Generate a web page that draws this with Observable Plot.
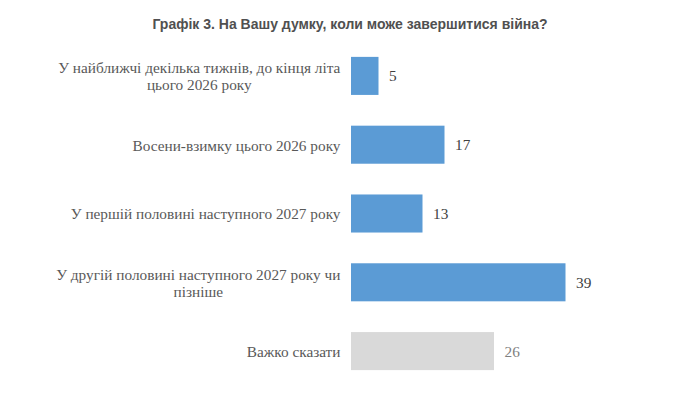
<!DOCTYPE html>
<html>
<head>
<meta charset="utf-8">
<script src="https://cdn.jsdelivr.net/npm/d3@7"></script>
<script src="https://cdn.jsdelivr.net/npm/@observablehq/plot@0.6"></script>
<style>
  html, body { margin: 0; padding: 0; background: #fff; }
  #title {
    width: 674px; box-sizing: border-box; height: 40px;
    padding: 16px 0 0 26px; text-align: center;
    font: bold 14px "Liberation Sans", Arial, sans-serif; line-height: 16px;
    color: #505050;
  }
  svg { display: block; }
</style>
</head>
<body>
<div id="title">Графік 3. На Вашу думку, коли може завершитися війна?</div>
<div id="chart"></div>
<script>
const categories = [
  "У найближчі декілька тижнів, до кінця літа цього 2026 року",
  "Восени-взимку цього 2026 року",
  "У першій половині наступного 2027 року",
  "У другій половині наступного 2027 року чи пізніше",
  "Важко сказати"
];
const categoryLabels = [
  "У найближчі декілька тижнів, до кінця літа\nцього 2026 року",
  "Восени-взимку цього 2026 року",
  "У першій половині наступного 2027 року",
  "У другій половині наступного 2027 року чи\nпізніше",
  "Важко сказати"
];
const values = [5, 17, 13, 39, 26];

const data = categories.map((c, i) => ({category: c, label: categoryLabels[i], value: values[i]}));
const isHard = d => d.category === "Важко сказати";

const chart = Plot.plot({
  width: 674,
  height: 370,
  marginLeft: 351,
  marginRight: 48,
  marginTop: 10,
  marginBottom: 33,
  x: {domain: [0, 50], axis: null},
  y: {domain: categories, paddingInner: 0.447, paddingOuter: 0.1, round: false, axis: null},
  marks: [
    Plot.barX(data, {
      x: "value", y: "category",
      fill: d => isHard(d) ? "#D9D9D9" : "#5B9BD5"
    }),
    Plot.text(data, {
      x: "value", y: "category", text: d => String(d.value),
      dx: 10, textAnchor: "start",
      fill: d => isHard(d) ? "#808080" : "#404040",
      fontFamily: "'Liberation Serif', 'Times New Roman', serif",
      fontSize: 15.3
    }),
    Plot.text(data, {
      x: 0, y: "category", text: "label",
      dx: -11, textAnchor: "end", lineHeight: 1.12,
      fill: "#595959",
      fontFamily: "'Liberation Serif', 'Times New Roman', serif",
      fontSize: 15.3,
      className: "cat-label"
    })
  ]
});
document.getElementById("chart").append(chart);

// center multi-line labels within their right-aligned block
chart.querySelectorAll(".cat-label text").forEach(t => {
  if (t.querySelectorAll("tspan").length > 1) {
    const w = t.getBBox().width;
    t.setAttribute("text-anchor", "middle");
    const tr = t.getAttribute("transform") || "";
    t.setAttribute("transform", tr + ` translate(${-w / 2},0)`);
  }
});
</script>
</body>
</html>
